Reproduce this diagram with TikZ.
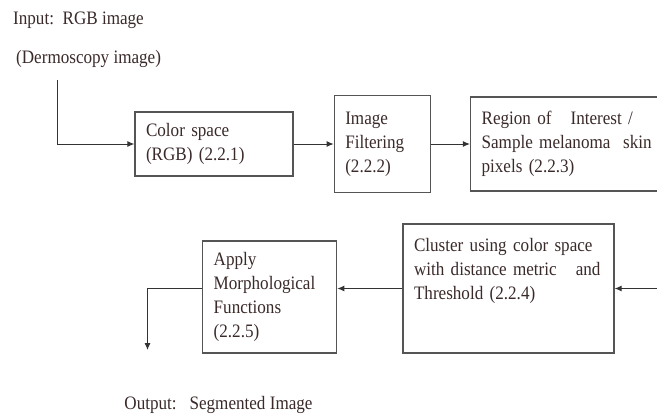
\documentclass[tikz,border=0pt]{standalone}
\usepackage{fontspec}
\setmainfont{Liberation Serif}[FakeStretch=0.9]
\usetikzlibrary{positioning, arrows.meta}
\definecolor{txtbrown}{RGB}{58,42,42}
\definecolor{boxgray}{RGB}{85,85,85}

\begin{document}
\begin{tikzpicture}[
                x=1pt, y=-1pt,
                node distance=40pt,
                every node/.style={font=\fontsize{19}{24}\selectfont, text=txtbrown},
                >={Latex[width=6pt,length=7pt]},
                stage/.style={rectangle, draw=boxgray, line width=1.3pt, align=left, inner xsep=11pt, inner ysep=5pt},
                line/.style={draw=black!80, line width=1pt, ->},
                ]

        \clip (0,0) rectangle (657,416);

        % Top row of stages
        \node [stage, text width=136pt, minimum height=64pt] (colorSpace) at (214,144) {Color space\\(RGB) (2.2.1)};
        \node [stage, text width=74pt, minimum height=97pt, right=of colorSpace] (filtering) {Image\\Filtering\\(2.2.2)};
        \node [stage, text width=178pt, minimum height=94pt, right=39pt of filtering] (roi) {Region of\ \ \ Interest /\\Sample melanoma\ \ skin\\pixels (2.2.3)};

        % Bottom row of stages
        \node [stage, text width=189pt, text height=22pt, text depth=97pt] (cluster) at (508.5,288.5) {Cluster using\ color space\\with distance metric\ \ \ and\\Threshold (2.2.4)};
        \node [stage, text width=112pt, minimum height=112pt, left=65pt of cluster.south west, anchor=south east] (morph) {Apply\\Morphological\\Functions\\(2.2.5)};

        % Input and output texts
        \node [anchor=base west, inner sep=0pt] (inputText) at (13,24) {Input:\ \ RGB image};
        \node [anchor=base west, inner sep=0pt] (dermo) at (16,63) {(Dermoscopy image)};
        \node [inner sep=0pt] (output) at (218.5,405) {Output:\ \ \ Segmented Image};

        \coordinate (inTop) at (57,80);
        \coordinate (roiOut) at (670,288.5);
        \coordinate (outArrow) at (147.5,350);

        % Arrows between stages
        \draw[line] (inTop) |- (colorSpace);
        \draw[line] (colorSpace) -- (filtering);
        \draw[line] (filtering) -- (roi);
        \draw[line] (roiOut) -- (cluster);
        \draw[line] (cluster.west) -- (cluster.west -| morph.east);
        \draw[line] (morph.west |- cluster.west) -| (outArrow);

    \end{tikzpicture}
\end{document}
